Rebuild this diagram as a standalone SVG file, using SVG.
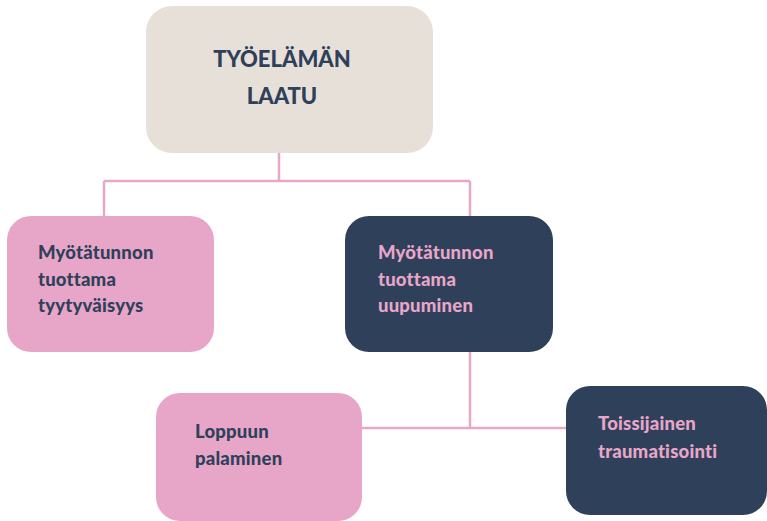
<svg xmlns="http://www.w3.org/2000/svg" width="767" height="521" viewBox="0 0 767 521">
<style>
.t{font-family:Lato,"Noto Sans","Liberation Sans",sans-serif;font-weight:900;font-size:18.5px;letter-spacing:0.2px}
.top{font-family:Lato,"Noto Sans","Liberation Sans",sans-serif;font-weight:900;font-size:22px;fill:#2F405A;text-anchor:middle}
.navyT{fill:#2F405A}
.pinkT{fill:#E8A6C9}
.pink{fill:#E7A6C8}
.navy{fill:#2F405A}
.conn{stroke:#E8A6C9;stroke-width:2.5;fill:none}
</style>
<rect width="767" height="521" fill="#FFFFFF"/>
<g id="connectors">
<path class="conn" d="M279 153 V181 M104 181 H470 M104 181 V216 M470 181 V216"/>
<path class="conn" d="M470 352 V428 M362 428 H567"/>
</g>
<g id="n_top">
<rect x="146" y="6" width="287" height="147" rx="26" fill="#E7E0D8"/>
<text class="top" x="282" y="67">TYÖELÄMÄN</text>
<text class="top" x="282" y="104">LAATU</text>
</g>
<g id="n_tyytyvaisyys">
<rect class="pink" x="7" y="216" width="207" height="136" rx="24"/>
<text class="t navyT" x="38" y="259">Myötätunnon</text>
<text class="t navyT" x="38" y="286">tuottama</text>
<text class="t navyT" x="38" y="312">tyytyväisyys</text>
</g>
<g id="n_uupuminen">
<rect class="navy" x="345" y="216" width="208" height="136" rx="24"/>
<text class="t pinkT" x="378" y="259">Myötätunnon</text>
<text class="t pinkT" x="378" y="286">tuottama</text>
<text class="t pinkT" x="378" y="312">uupuminen</text>
</g>
<g id="n_loppuun">
<rect class="pink" x="156" y="393" width="206" height="128" rx="24"/>
<text class="t navyT" x="195" y="438">Loppuun</text>
<text class="t navyT" x="195" y="465">palaminen</text>
</g>
<g id="n_toissijainen">
<rect class="navy" x="566" y="386" width="201" height="129" rx="24"/>
<text class="t pinkT" x="598" y="430">Toissijainen</text>
<text class="t pinkT" x="598" y="458">traumatisointi</text>
</g>
</svg>
